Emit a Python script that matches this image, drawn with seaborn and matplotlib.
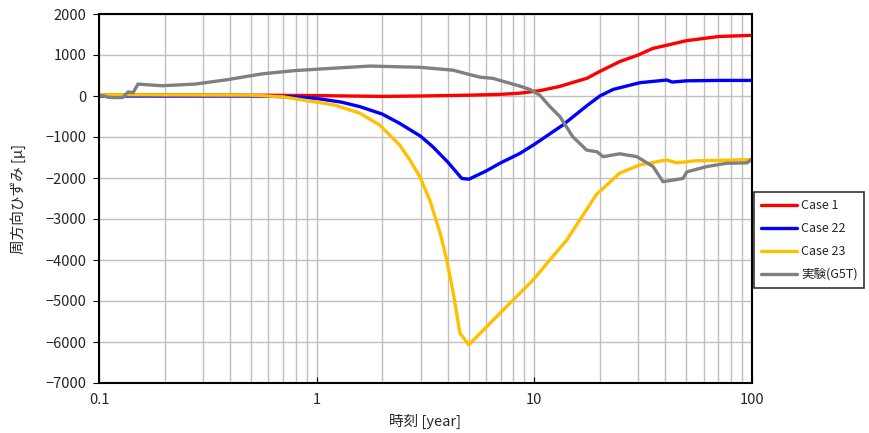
import numpy as np
import pandas as pd
import matplotlib
matplotlib.use("Agg")
import matplotlib.pyplot as plt
import matplotlib.ticker as mticker
import seaborn as sns

# values (time in years, strain in micro)
case1_t = [0.1, 0.5, 1, 2, 3, 5, 7, 8.6, 10.6, 13, 15, 17.4, 20, 24.7, 30, 35, 40, 50, 70, 100]
case1_v = [30, 20, 10, -10, 0, 20, 40, 70, 130, 230, 330, 430, 600, 840, 1000, 1160, 1230, 1350, 1450, 1480]

case22_t = [0.1, 0.5, 0.8, 1, 1.3, 1.58, 2, 2.41, 3, 3.42, 4, 4.64, 5, 6, 6.95, 8.59, 10, 13.5,
            17.4, 20, 23, 30.6, 40.6, 43, 50, 70, 100]
case22_v = [0, 0, -20, -60, -150, -260, -440, -670, -980, -1240, -1610, -2010, -2030, -1830, -1640,
            -1400, -1180, -710, -240, 0, 160, 325, 390, 340, 370, 380, 380]

case23_t = [0.1, 0.5, 0.7, 1, 1.21, 1.58, 1.95, 2.41, 2.68, 2.98, 3.31, 3.69, 3.96, 4.24, 4.55,
            5, 6.95, 9.85, 14.1, 19.3, 24.7, 30.6, 40.5, 45.2, 55, 70, 100]
case23_v = [30, 20, -20, -150, -220, -420, -710, -1200, -1560, -1970, -2540, -3340, -4000, -4800,
            -5780, -6070, -5300, -4490, -3510, -2400, -1880, -1680, -1560, -1630, -1580, -1570, -1550]

exp_t = [0.1, 0.105, 0.11, 0.12, 0.1289, 0.1359, 0.1433, 0.151, 0.1946, 0.276, 0.391, 0.561, 0.795,
         1.21, 1.76, 2.98, 4.23, 4.9, 5.62, 6.45, 7.73, 8.59, 9.55, 10.6, 11.8, 13.1, 15.0,
         17.4, 19.4, 20.7, 24.7, 29.6, 35.1, 39.0, 48.2, 50.2, 62.1, 76.7, 94.8, 100]
exp_v = [20, 0, -30, -40, -35, 100, 80, 290, 250, 290, 400, 540, 620,
         680, 730, 700, 630, 540, 460, 430, 310, 240, 160, 20, -260, -500, -990,
         -1320, -1360, -1480, -1410, -1480, -1720, -2090, -2010, -1850, -1720, -1640, -1630, -1540]

series_names = ["Case 1", "Case 22", "Case 23", "実験(G5T)"]
series_colors = ["#FF0000", "#0000FF", "#FFC000", "#808080"]

frames = []
for name, t, v in zip(series_names,
                      [case1_t, case22_t, case23_t, exp_t],
                      [case1_v, case22_v, case23_v, exp_v]):
    frames.append(pd.DataFrame({"time": t, "strain": v, "series": name}))
df = pd.concat(frames, ignore_index=True)

sns.set_style("ticks")
plt.rcParams["font.family"] = ["Noto Sans CJK JP", "DejaVu Sans"]
plt.rcParams["axes.unicode_minus"] = True

fig = plt.figure(figsize=(8.69, 4.33), dpi=100)
ax = fig.add_axes([99 / 869, 1 - 383 / 433, (752 - 99) / 869, (383 - 14) / 433])

sns.lineplot(data=df, x="time", y="strain", hue="series", hue_order=series_names,
             palette=series_colors, sort=False, estimator=None, linewidth=2.4, ax=ax)

ax.set_xscale("log")
ax.set_xlim(0.1, 100)
ax.set_ylim(-7000, 2000)
ax.set_yticks(np.arange(-7000, 2001, 1000))
ax.xaxis.set_major_locator(mticker.FixedLocator([0.1, 1, 10, 100]))
ax.xaxis.set_major_formatter(mticker.FixedFormatter(["0.1", "1", "10", "100"]))
ax.xaxis.set_minor_locator(mticker.LogLocator(base=10, subs=np.arange(2, 10)))
ax.xaxis.set_minor_formatter(mticker.NullFormatter())

ax.grid(True, which="both", axis="x", color="#C0C0C0", linewidth=1)
ax.grid(True, which="major", axis="y", color="#C0C0C0", linewidth=1)
ax.set_axisbelow(True)

ax.tick_params(axis="both", which="major", labelsize=10.5, length=4, color="black")
ax.tick_params(axis="y", which="major", pad=5)
ax.tick_params(axis="x", which="major", direction="in", pad=7)
ax.tick_params(axis="x", which="minor", length=0)
for s in ax.spines.values():
    s.set_color("black")
    s.set_linewidth(1.5)

ax.set_xlabel("時刻 [year]", fontsize=10.5, labelpad=5)
ax.set_ylabel("周方向ひずみ [μ]", fontsize=10.5, labelpad=14)

handles, labels = ax.get_legend_handles_labels()
leg = fig.legend(handles, labels, loc="center left",
                 bbox_to_anchor=(754 / 869, 1 - 240 / 433), fontsize=9,
                 frameon=True, fancybox=False, edgecolor="black", borderaxespad=0,
                 handlelength=2.9, labelspacing=0.8, borderpad=0.55, handletextpad=0.3)
leg.get_frame().set_linewidth(1.2)
if ax.get_legend():
    ax.get_legend().remove()

fig.savefig("out.png", dpi=100)
